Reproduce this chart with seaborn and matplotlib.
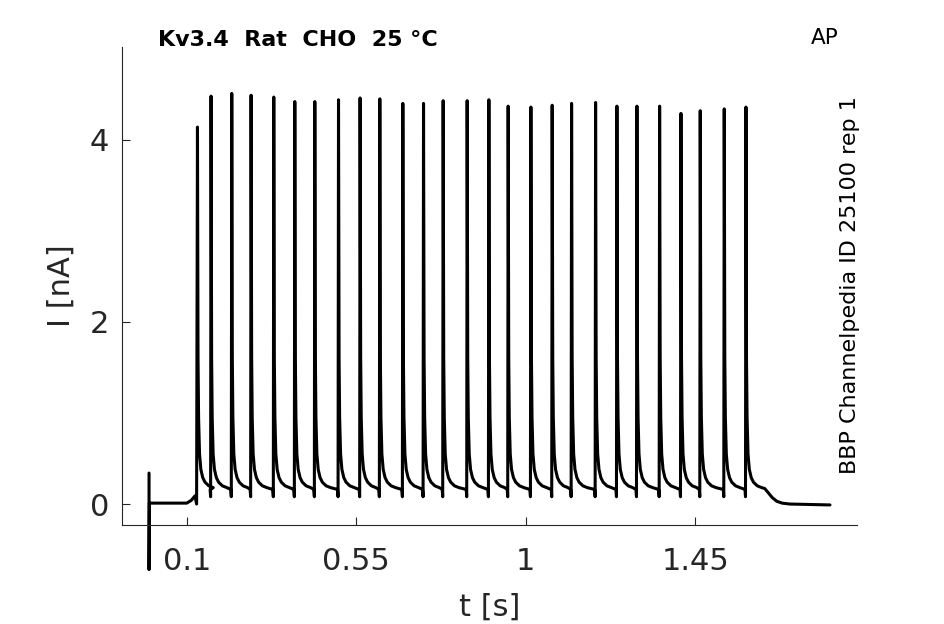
import numpy as np
import pandas as pd
import matplotlib
matplotlib.use("Agg")
import matplotlib.pyplot as plt
import seaborn as sns

# spike times (s) and peak currents (nA)
spike_t = [0.1285, 0.1646, 0.2195, 0.2708, 0.3310, 0.3868, 0.4399, 0.5028, 0.5601,
           0.6124, 0.6735, 0.7284, 0.7805, 0.8442, 0.9018, 0.9530, 1.0133, 1.0698,
           1.1213, 1.1850, 1.2416, 1.2947, 1.3549, 1.4115, 1.4627, 1.5264, 1.5840]
spike_peak = [4.14, 4.48, 4.51, 4.49, 4.47, 4.42, 4.42, 4.44, 4.46,
              4.45, 4.40, 4.40, 4.43, 4.43, 4.44, 4.37, 4.36, 4.38,
              4.40, 4.41, 4.37, 4.37, 4.37, 4.29, 4.32, 4.34, 4.36]

# shape of one spike: offsets from spike time and current (None = peak)
shape_dt = [-0.0025, -0.0012, 0.0, 0.0015, 0.003, 0.0055, 0.009, 0.014, 0.02, 0.03, 0.042]
shape_i = [0.16, 0.08, None, 1.6, 0.95, 0.55, 0.38, 0.29, 0.24, 0.20, 0.18]

# start of the recording (artifact at t=0, then ramp up)
pre_t = [0.0, 0.0, 0.001, 0.100, 0.112, 0.122, 0.1262]
pre_i = [0.34, -0.72, 0.01, 0.01, 0.04, 0.09, 0.0]

# end of the recording (after last spike)
post_t = [1.634, 1.642, 1.654, 1.666, 1.68, 1.70, 1.807]
post_i = [0.17, 0.13, 0.07, 0.03, 0.01, 0.0, -0.01]

t_all = list(pre_t)
i_all = list(pre_i)
for k, (ts, pk) in enumerate(zip(spike_t, spike_peak)):
    for dt, v in zip(shape_dt, shape_i):
        if k == 0 and dt < 0:
            continue
        t_all.append(ts + dt)
        i_all.append(pk if v is None else v)
t_all += post_t
i_all += post_i

trace = pd.DataFrame({"t": t_all, "I": i_all})

sns.set_style("ticks")
plt.rcParams["font.family"] = ["DejaVu Sans"]
txt = "#262626"

fig = plt.figure(figsize=(9.45, 6.24), dpi=100)
ax = fig.add_axes([0.129, 0.1587, 0.778, 0.766])

sns.lineplot(data=trace, x="t", y="I", sort=False, estimator=None,
             color="black", linewidth=2.2, clip_on=False, ax=ax)

ax.set_xlim(-0.072, 1.879)
ax.set_ylim(-0.23, 5.02)
ax.set_xticks([0.1, 0.55, 1, 1.45])
ax.set_xticklabels(["0.1", "0.55", "1", "1.45"])
ax.set_yticks([0, 2, 4])
ax.tick_params(direction="in", length=6, width=0.8, colors=txt, labelsize=22)
ax.tick_params(axis="x", pad=16)
ax.tick_params(axis="y", pad=9)
ax.set_xlabel("t [s]", fontsize=22, color=txt, labelpad=12)
ax.set_ylabel("I [nA]", fontsize=22, color=txt, labelpad=10)
sns.despine(ax=ax)
for s in ["left", "bottom"]:
    ax.spines[s].set_color(txt)
    ax.spines[s].set_linewidth(0.8)

fig.text(0.167, 0.936, "Kv3.4  Rat  CHO  25 °C", fontsize=16, fontweight="bold",
         va="center", ha="left", color="black")
fig.text(0.873, 0.939, "AP", fontsize=15.5, va="center", ha="center", color="black")
fig.text(0.9, 0.543, "BBP Channelpedia ID 25100 rep 1", fontsize=16, rotation=90,
         va="center", ha="center", color="black")

fig.savefig("out.png", dpi=100)
